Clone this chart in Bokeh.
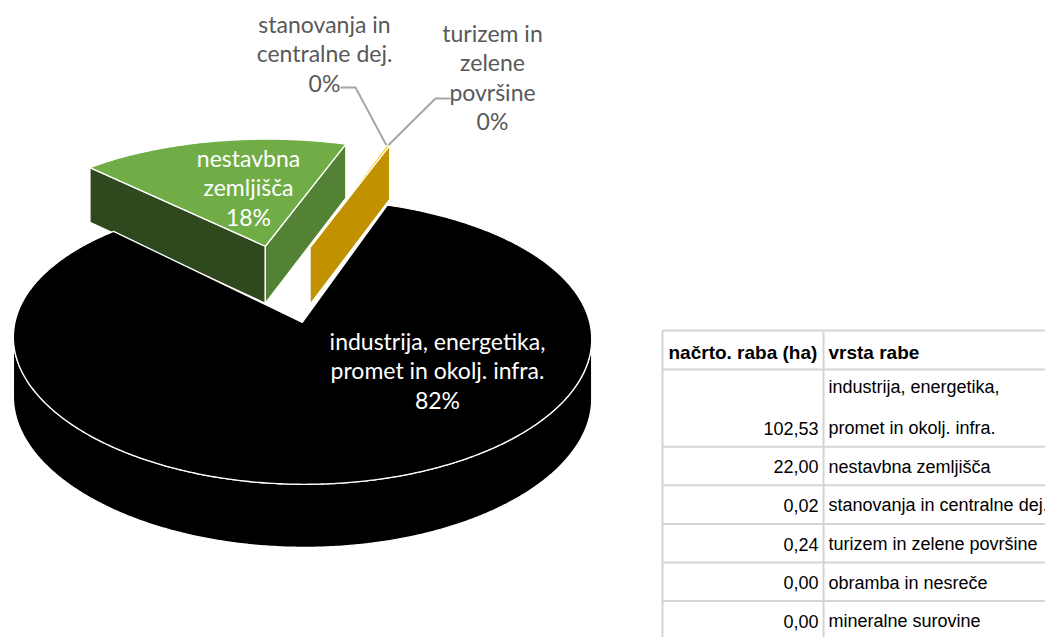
import math
import textwrap
import numpy as np
from bokeh.plotting import figure
from bokeh.models import Range1d, ColumnDataSource
from bokeh.core.properties import value
from bokeh.embed import file_html
from bokeh.resources import INLINE

# ---------------- data ----------------
categories = [
    "industrija, energetika, promet in okolj. infra.",
    "nestavbna zemljišča",
    "stanovanja in centralne dej.",
    "turizem in zelene površine",
    "obramba in nesreče",
    "mineralne surovine",
]
area_ha = [102.53, 22.00, 0.02, 0.24, 0.00, 0.00]
table_header = ["načrto. raba (ha)", "vrsta rabe"]
PIE_COUNT = 4  # the chart uses the first four rows of the table

# ---------------- styles / layout ----------------
slice_colors = ["#000000", "#70AD47", "#A5A5A5", "#FFC000"]
label_inside = [True, True, False, False]
label_wrap = [23, 10, 14, 10]
label_pos = {0: (437, 340), 1: (248, 157), 2: (324, 23), 3: (492, 32)}
leader_pts = {2: [(355, 87), (340, 87)], 3: [(435, 98), (450, 98)]}
LABEL_STEP = 29.6
LABEL_FONT = "Lato"
LABEL_SIZE = "23px"

W, H = 1045, 637

# projection of the 3-D pie (perspective-like, screen pixels)
FIRST_ANGLE = 19.5
EXPLODE = 0.30
PERSP = 0.88
OX, FX, DX = 283.0, 2265.0, 8.14
OY, GY, DY = 282.3, 882.5, 6.8
ZK, DZ = 824.0, 14.2
CAM = DX / PERSP
LIGHT = np.array([0.3755, -0.4118, 0.8299])
AMB, DIF = 0.3995, 0.7236

TABLE_LEFT, COL_SPLIT, TABLE_RIGHT = 662, 823, 1080
TABLE_TOP, HEADER_H, ROW_H = 330, 39, 38.6
TEXT_STEP = 41
TEXT_PAD = 18.5
table_wrap = [True, False, False, False, False, False]
TABLE_FONT = "Liberation Sans"
TABLE_SIZE = "18px"
HEADER_SIZE = "19px"
GRID_COLOR = "#D4D4D4"


def proj(X, Y, Z):
    X = np.asarray(X, float)
    Y = np.asarray(Y, float)
    Z = np.asarray(Z, float)
    x = OX + FX * X / (DX + PERSP * Y)
    y = OY - GY * Y / (DY + PERSP * Y) - Z * ZK / (DZ + PERSP * Y)
    return x, y


def shade(hexcol, normal):
    f = AMB + DIF * max(0.0, float(np.dot(normal, LIGHT)))
    f = min(f, 1.0)
    r, g, b = (int(hexcol[i:i + 2], 16) for i in (1, 3, 5))
    return "#%02x%02x%02x" % (round(r * f), round(g * f), round(b * f))


def visible(px, py, nx, ny):
    return (-px) * nx + (-CAM - py) * ny > 0


total = sum(area_ha[:PIE_COUNT])
fracs = [v / total for v in area_ha[:PIE_COUNT]]

slices = []
start = FIRST_ANGLE
for i, f in enumerate(fracs):
    a0, a1 = start, start + f * 360.0
    start = a1
    mid = math.radians((a0 + a1) / 2)
    cx, cy = EXPLODE * math.sin(mid), EXPLODE * math.cos(mid)
    n = max(3, int(abs(a1 - a0) / 0.5) + 2)
    phis = np.radians(np.linspace(a0, a1, n))
    rx, ry = cx + np.sin(phis), cy + np.cos(phis)
    polys = []
    # outer curved side (front-facing runs, widened by one sample)
    vis = visible(rx, ry, np.sin(phis), np.cos(phis))
    vis2 = vis.copy()
    vis2[1:] |= vis[:-1]
    vis2[:-1] |= vis[1:]
    run = []
    for k in range(n + 1):
        if k < n and vis2[k]:
            run.append(k)
        else:
            if len(run) >= 2:
                idx = np.array(run)
                tx, ty = proj(rx[idx], ry[idx], 0.0)
                bx, by = proj(rx[idx], ry[idx], -1.0)
                m = phis[idx[len(idx) // 2]]
                col = shade(slice_colors[i], np.array([math.sin(m), math.cos(m), 0.0]))
                polys.append((list(tx) + list(bx[::-1]), list(ty) + list(by[::-1]), col))
            run = []
    # radial faces
    for ang, is_end in ((a0, False), (a1, True)):
        r = math.radians(ang)
        if is_end:
            nx, ny = math.cos(r), -math.sin(r)
        else:
            nx, ny = -math.cos(r), math.sin(r)
        if visible(cx, cy, nx, ny):
            ex, ey = cx + math.sin(r), cy + math.cos(r)
            qx, qy = proj([cx, ex, ex, cx], [cy, ey, ey, cy], [0, 0, -1.0, -1.0])
            polys.append((list(qx), list(qy), shade(slice_colors[i], np.array([nx, ny, 0.0]))))
    # top face
    tx, ty = proj(np.r_[cx, rx], np.r_[cy, ry], 0.0)
    polys.append((list(tx), list(ty), slice_colors[i]))
    rimx, rimy = proj(cx + math.sin(mid), cy + math.cos(mid), 0.0)
    slices.append(dict(depth=cy, polys=polys, rim=(float(rimx), float(rimy))))

order = sorted(range(len(slices)), key=lambda j: -slices[j]["depth"])
pxs, pys, pcols = [], [], []
for j in order:
    for xs, ys, col in slices[j]["polys"]:
        pxs.append(xs)
        pys.append(ys)
        pcols.append(col)

p = figure(width=W, height=H, x_range=Range1d(0, W), y_range=Range1d(H, 0),
           output_backend="svg", toolbar_location=None, min_border=0,
           x_axis_location=None, y_axis_location=None)
p.grid.visible = False
p.outline_line_color = None
p.background_fill_color = "white"
p.border_fill_color = "white"

p.patches(xs=pxs, ys=pys, fill_color=pcols, line_color="white", line_width=1.3,
          line_join="round")

# leader lines
for i, pts in leader_pts.items():
    rx, ry = slices[i]["rim"]
    p.line([rx] + [q[0] for q in pts], [ry] + [q[1] for q in pts],
           line_color="#A6A6A6", line_width=2)

# pie labels
lx, ly, lt, lc = [], [], [], []
for i in range(PIE_COUNT):
    pct = round(area_ha[i] / total * 100)
    lines = textwrap.wrap(categories[i], width=label_wrap[i]) + [f"{pct}%"]
    x, y = label_pos[i]
    for k, line in enumerate(lines):
        lx.append(x)
        ly.append(y + k * LABEL_STEP)
        lt.append(line)
        lc.append("#FFFFFF" if label_inside[i] else "#595959")
p.text(x="x", y="y", text="t", text_color="c",
       source=ColumnDataSource(dict(x=lx, y=ly, t=lt, c=lc)),
       text_font=value(LABEL_FONT), text_font_size=LABEL_SIZE,
       text_align="center", text_baseline="middle")

# table
row_lines = []
for i, name in enumerate(categories):
    row_lines.append(textwrap.wrap(name, width=23) if table_wrap[i] else [name])
bounds = [TABLE_TOP, TABLE_TOP + HEADER_H]
for lines in row_lines:
    bounds.append(bounds[-1] + ROW_H * len(lines))

for b in bounds:
    p.line([TABLE_LEFT, TABLE_RIGHT], [b, b], line_color=GRID_COLOR, line_width=2)
for xv in (TABLE_LEFT, COL_SPLIT):
    p.line([xv, xv], [bounds[0], bounds[-1]], line_color=GRID_COLOR, line_width=2)

hy = bounds[1] - TEXT_PAD + 1.5
p.text(x=[TABLE_LEFT + 6, COL_SPLIT + 5], y=[hy, hy], text=table_header,
       text_font=value(TABLE_FONT), text_font_size=HEADER_SIZE, text_font_style="bold",
       text_color="#000000", text_align="left", text_baseline="middle")

nx_, ny_, nt_ = [], [], []
tx_, ty_, tt_ = [], [], []
for i, lines in enumerate(row_lines):
    bottom = bounds[i + 2]
    nx_.append(COL_SPLIT - 5)
    ny_.append(bottom - TEXT_PAD)
    nt_.append(f"{area_ha[i]:.2f}".replace(".", ","))
    for k, line in enumerate(lines):
        tx_.append(COL_SPLIT + 5)
        ty_.append(bottom - TEXT_PAD - (len(lines) - 1 - k) * TEXT_STEP)
        tt_.append(line)
p.text(x=nx_, y=ny_, text=nt_, text_font=value(TABLE_FONT), text_font_size=TABLE_SIZE,
       text_color="#000000", text_align="right", text_baseline="middle")
p.text(x=tx_, y=ty_, text=tt_, text_font=value(TABLE_FONT), text_font_size=TABLE_SIZE,
       text_color="#000000", text_align="left", text_baseline="middle")

open("out.html", "w").write(file_html(p, INLINE))
